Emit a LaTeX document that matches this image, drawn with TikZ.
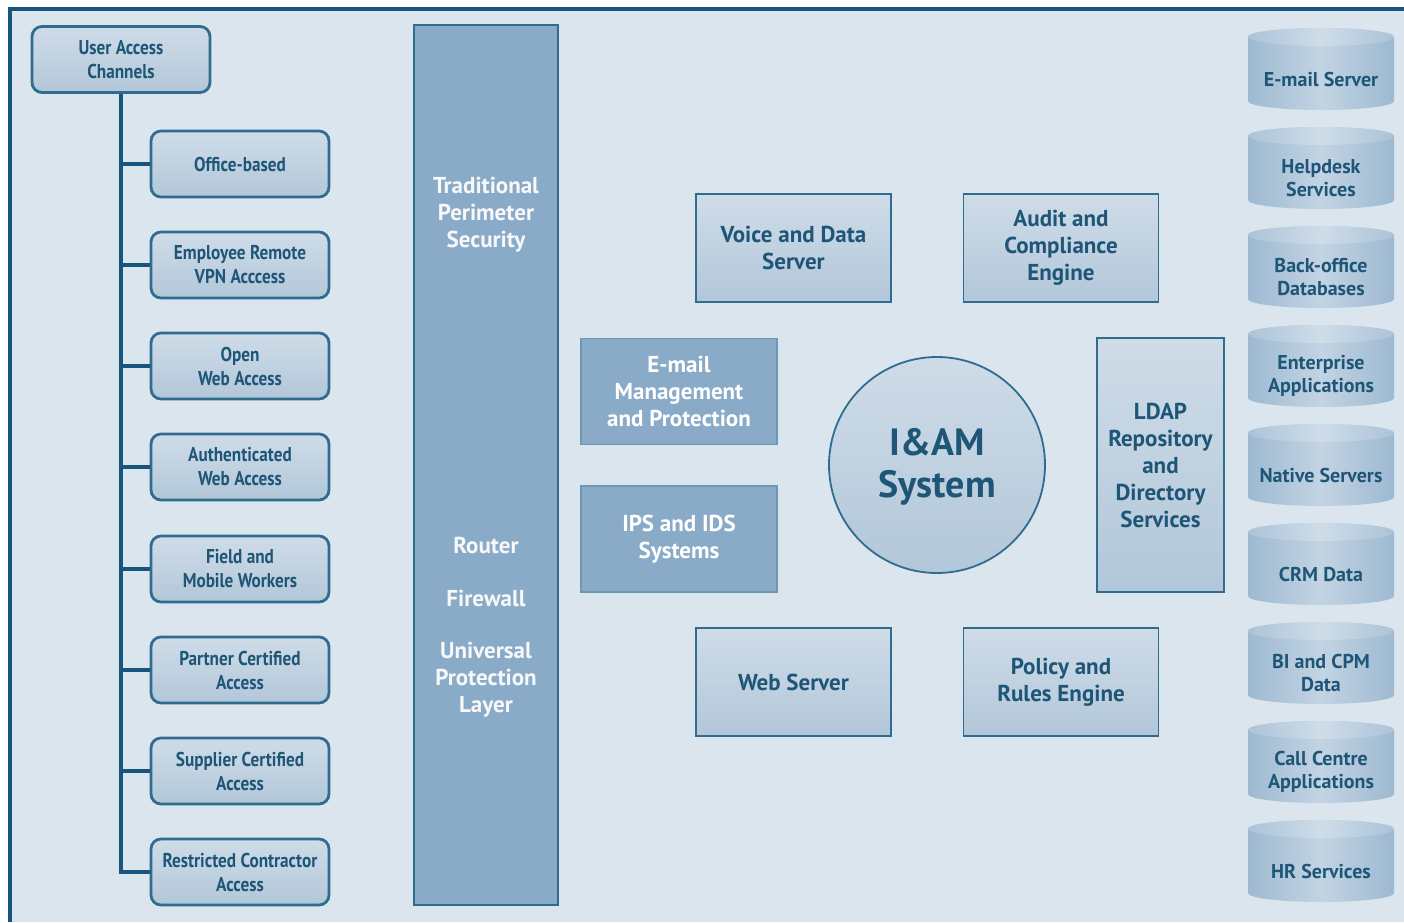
\documentclass[tikz,border=0pt]{standalone}
\usepackage{fontspec}
\setmainfont{PT Sans}
\newfontfamily\condfont[FakeStretch=0.86]{PT Sans}
\usetikzlibrary{calc}
\definecolor{bg}{HTML}{DBE5EE}
\definecolor{frame}{HTML}{17557D}
\definecolor{ctext}{HTML}{1E5677}
\definecolor{cedge}{HTML}{2F6C90}
\definecolor{clight}{HTML}{CFDCE8}
\definecolor{cmid}{HTML}{B2C7D9}
\definecolor{cdark}{HTML}{8AABC7}
\definecolor{cyledge}{HTML}{9DB9D1}
\definecolor{cylmid}{HTML}{C3D4E3}
\tikzset{
  leftbox/.style={draw=cedge, line width=1.4pt, rounded corners=5pt,
    top color=clight, bottom color=cmid, text=ctext, align=center,
    minimum width=89pt, minimum height=33pt, inner sep=1pt,
    font=\condfont\bfseries\fontsize{10}{12}\selectfont},
  midbox/.style={draw=cedge, line width=0.9pt, top color=clight, bottom color=cmid,
    text=ctext, align=center, minimum width=97.5pt, minimum height=54pt, inner sep=1pt,
    font=\bfseries\fontsize{11.5}{13.5}\selectfont},
  darkbox/.style={draw=cedge!70, line width=0.8pt, fill=cdark, text=white, align=center,
    minimum width=98pt, minimum height=53pt, inner sep=1pt,
    font=\bfseries\fontsize{11.5}{13.5}\selectfont},
  perimbar/.style={draw=cedge, line width=0.8pt, fill=cdark, minimum width=72pt, minimum height=440pt},
  perimtext/.style={text=white!92!cdark, align=center, font=\bfseries\fontsize{11.5}{13.5}\selectfont},
  cyltext/.style={text=ctext, align=center, inner sep=1pt, font=\bfseries\fontsize{10}{11.5}\selectfont},
  trunk/.style={draw=frame, line width=2pt},
  branch/.style={draw=frame, line width=2pt},
}
\begin{document}
\begin{tikzpicture}[x=0.5pt,y=-0.5pt]
\useasboundingbox (0,0) rectangle (1404,922);
\fill[white] (0,0) rectangle (1404,922);
\fill[bg] (10,9) rectangle (1404,922);
\draw[frame, line width=2pt] (10,922) -- (10,9) -- (1404,9);

% left tree
\node[leftbox] (root) at (121,59.5) {User Access\\Channels};
\foreach \y/\txt [count=\i] in {164/{Office-based}, 265/{Employee Remote\\VPN Acccess},
  366/{Open\\Web Access}, 467/{Authenticated\\Web Access}, 569/{Field and\\Mobile Workers},
  670/{Partner Certified\\Access}, 771/{Supplier Certified\\Access}, 872/{Restricted Contractor\\Access}}
  \node[leftbox] (c\i) at (240,\y) {\txt};
\draw[trunk] (root.south) |- (c8.west);
\foreach \i in {1,...,7}
  \draw[branch] (root.south |- c\i.west) -- (c\i.west);

% perimeter bar
\node[perimbar] (perim) at (486,465) {};
\node[perimtext] (trad) at (486,215) {Traditional\\Perimeter\\Security};
\node[perimtext] (router) at (486,545) {Router};
\node[perimtext] (fw) at (486,598) {Firewall};
\node[perimtext] (upl) at (486,680) {Universal\\Protection\\Layer};

% middle
\node[midbox] (voice) at (793.5,248) {Voice and Data\\Server};
\node[midbox] (audit) at (1061,248) {Audit and\\Compliance\\Engine};
\node[darkbox] (email) at (679,391.5) {E-mail\\Management\\and Protection};
\node[darkbox] (ips) at (679,539) {IPS and IDS\\Systems};
\node[circle, draw=cedge, line width=0.9pt, top color=clight, bottom color=cmid,
  minimum size=108pt, inner sep=0pt] (iam) at (937,465) {};
\node[text=ctext, align=center, inner sep=0pt,
  font=\bfseries\fontsize{19}{21}\selectfont] (iamtext) at (937,467) {I\&AM\\System};
\node[midbox, minimum width=63.5pt, minimum height=127pt] (ldap) at (1160.5,465)
  {LDAP\\Repository\\and\\Directory\\Services};
\node[midbox] (web) at (793.5,682) {Web Server};
\node[midbox] (policy) at (1061,682) {Policy and\\Rules Engine};

% cylinders
\foreach \t/\txt [count=\i] in {28/{E-mail Server}, 127/{Helpdesk\\Services},
  226/{Back-office\\Databases}, 325/{Enterprise\\Applications}, 424/{Native Servers},
  523/{CRM Data}, 622/{BI and CPM\\Data}, 721/{Call Centre\\Applications}, 820/{HR Services}}
{
  \shade[left color=cyledge, right color=cyledge, middle color=cylmid]
    (1248,\t+9) -- (1248,\t+73) arc[start angle=180,end angle=0,x radius=73,y radius=9]
    -- (1394,\t+9) arc[start angle=0,end angle=-180,x radius=73,y radius=9] -- cycle;
  \shade[left color=cyledge!85!white, right color=cyledge!85!white, middle color=cylmid!80!white]
    (1321,\t+9) ellipse[x radius=73,y radius=9];
  \node[cyltext] (cyl\i) at (1321,\t+51) {\txt};
}
\end{tikzpicture}
\end{document}
